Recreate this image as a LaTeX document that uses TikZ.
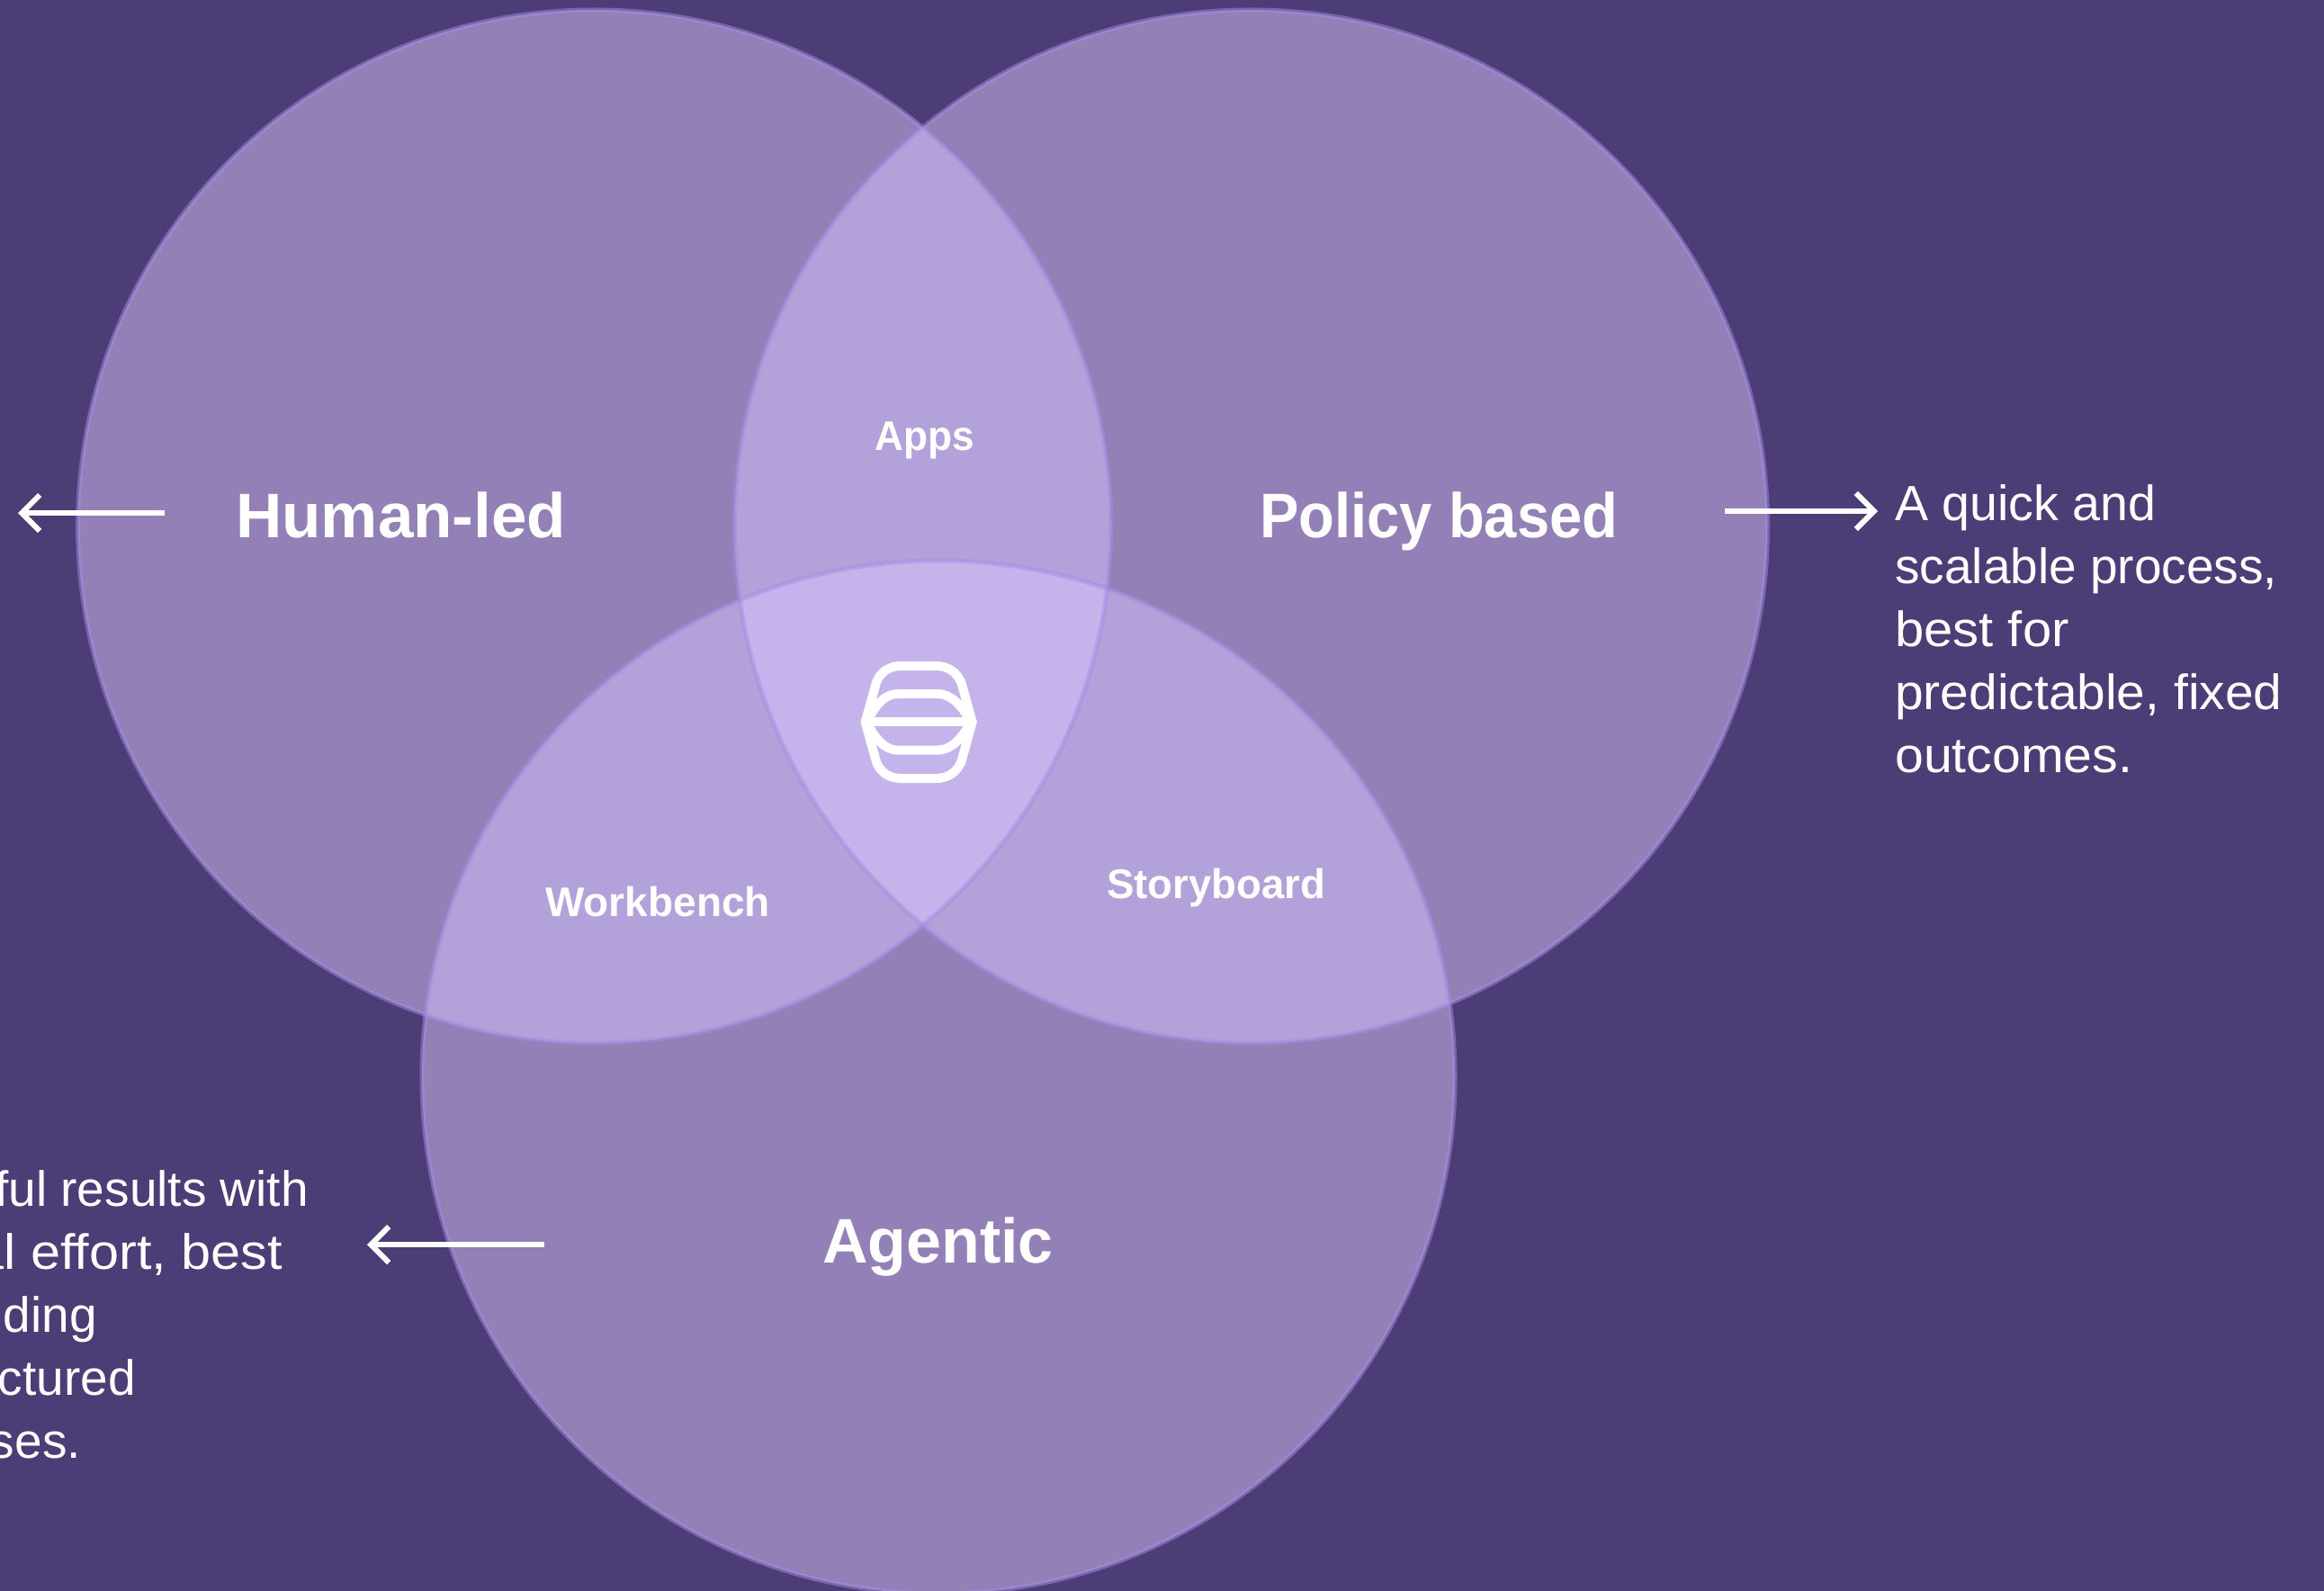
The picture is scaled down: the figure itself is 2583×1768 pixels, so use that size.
\documentclass[tikz,border=0pt]{standalone}
\usepackage{fontspec}
\setmainfont{Liberation Sans}
\usetikzlibrary{arrows.meta}
\definecolor{bgc}{HTML}{4D3D76}
\definecolor{onec}{HTML}{9380B7}
\definecolor{twoc}{HTML}{B3A1D9}
\definecolor{threec}{HTML}{C4B4EB}
\definecolor{edgec}{HTML}{A58DE6}
\tikzset{
  x=1pt,y=-1pt,
  ring/.style={draw=edgec,opacity=.5,line width=5pt},
  big/.style={text=white,font=\fontsize{70}{84}\selectfont\bfseries,inner sep=0pt,anchor=base west},
  mid/.style={text=white,font=\fontsize{46}{55}\selectfont\bfseries,inner sep=0pt,anchor=base west},
  body/.style={text=white,font=\fontsize{55}{70}\selectfont,inner sep=0pt},
  point/.style={draw=white,line width=6pt,-{Straight Barb[length=20pt,width=40pt,line width=6pt]}},
  logo/.style={draw=white,line width=10pt,line join=round}
}
\newcommand{\wider}[2]{{\addfontfeature{FakeStretch=#1}#2}}
\begin{document}
\begin{tikzpicture}
\useasboundingbox (0,0) rectangle (2583,1768);
\fill[bgc] (0,0) rectangle (2583,1768);
\def\ca{(660.6,585) circle[radius=574]}
\def\cb{(1390.5,585) circle[radius=574]}
\def\cc{(1043,1197) circle[radius=574]}
\fill[onec] \ca; \fill[onec] \cb; \fill[onec] \cc;
\begin{scope}\clip \ca; \fill[twoc] \cb; \fill[twoc] \cc; \end{scope}
\begin{scope}\clip \cb; \fill[twoc] \cc; \end{scope}
\begin{scope}\clip \ca; \clip \cb; \fill[threec] \cc; \end{scope}
\draw[ring] \ca; \draw[ring] \cb; \draw[ring] \cc;
\node[big] (human) at (262,597) {\wider{1.015}{Human-led}};
\node[big] (policy) at (1400,597) {\wider{0.93}{Policy based}};
\node[big] (agentic) at (914,1403) {Agentic};
\node[mid] (apps) at (972,500) {\wider{0.96}{Apps}};
\node[mid] (work) at (606,1018) {Workbench};
\node[mid] (story) at (1230,998) {\wider{0.99}{Storyboard}};
\node[body,anchor=base west,align=left] (quick) at (2106,858.5) {\wider{1.01}{A quick and}\\scalable process,\\\wider{1.055}{best for}\\\wider{1.035}{predictable, fixed}\\\wider{1.04}{outcomes.}};
\node[body,anchor=base east] (l1) at (343,1340) {ful results with};
\node[body,anchor=base east] (l2) at (314,1410) {\wider{1.08}{al effort, best}};
\node[body,anchor=base east] (l3) at (108,1480) {ding};
\node[body,anchor=base east] (l4) at (151,1550) {ctured};
\node[body,anchor=base east] (l5) at (90,1620) {ses.};
\coordinate (a1s) at (183,570); \coordinate (a1e) at (20,570);
\coordinate (a2s) at (1917,568); \coordinate (a2e) at (2087,568);
\coordinate (a3s) at (605,1383); \coordinate (a3e) at (408,1383);
\draw[point] (a1s) -- (a1e);
\draw[point] (a2s) -- (a2e);
\draw[point] (a3s) -- (a3e);
\begin{scope}[shift={(880,680)},x=0.33333pt,y=-0.33333pt]
\draw[logo,miter limit=10,line join=miter] (245,367) -- (282,235) .. controls (295,200) and (325,180) .. (365,180) -- (480,180) .. controls (520,180) and (550,200) .. (565,235) -- (602,367) -- (565,500) .. controls (550,535) and (520,555) .. (480,555) -- (365,555) .. controls (325,555) and (295,535) .. (282,500) -- cycle;
\draw[logo] (255,358) .. controls (280,310) and (310,273) .. (355,273) -- (485,273) .. controls (530,273) and (565,310) .. (592,358);
\draw[logo] (255,376) .. controls (280,424) and (310,461) .. (355,461) -- (485,461) .. controls (530,461) and (565,424) .. (592,376);
\draw[logo] (255,367) -- (595,367);
\end{scope}
\end{tikzpicture}
\end{document}
